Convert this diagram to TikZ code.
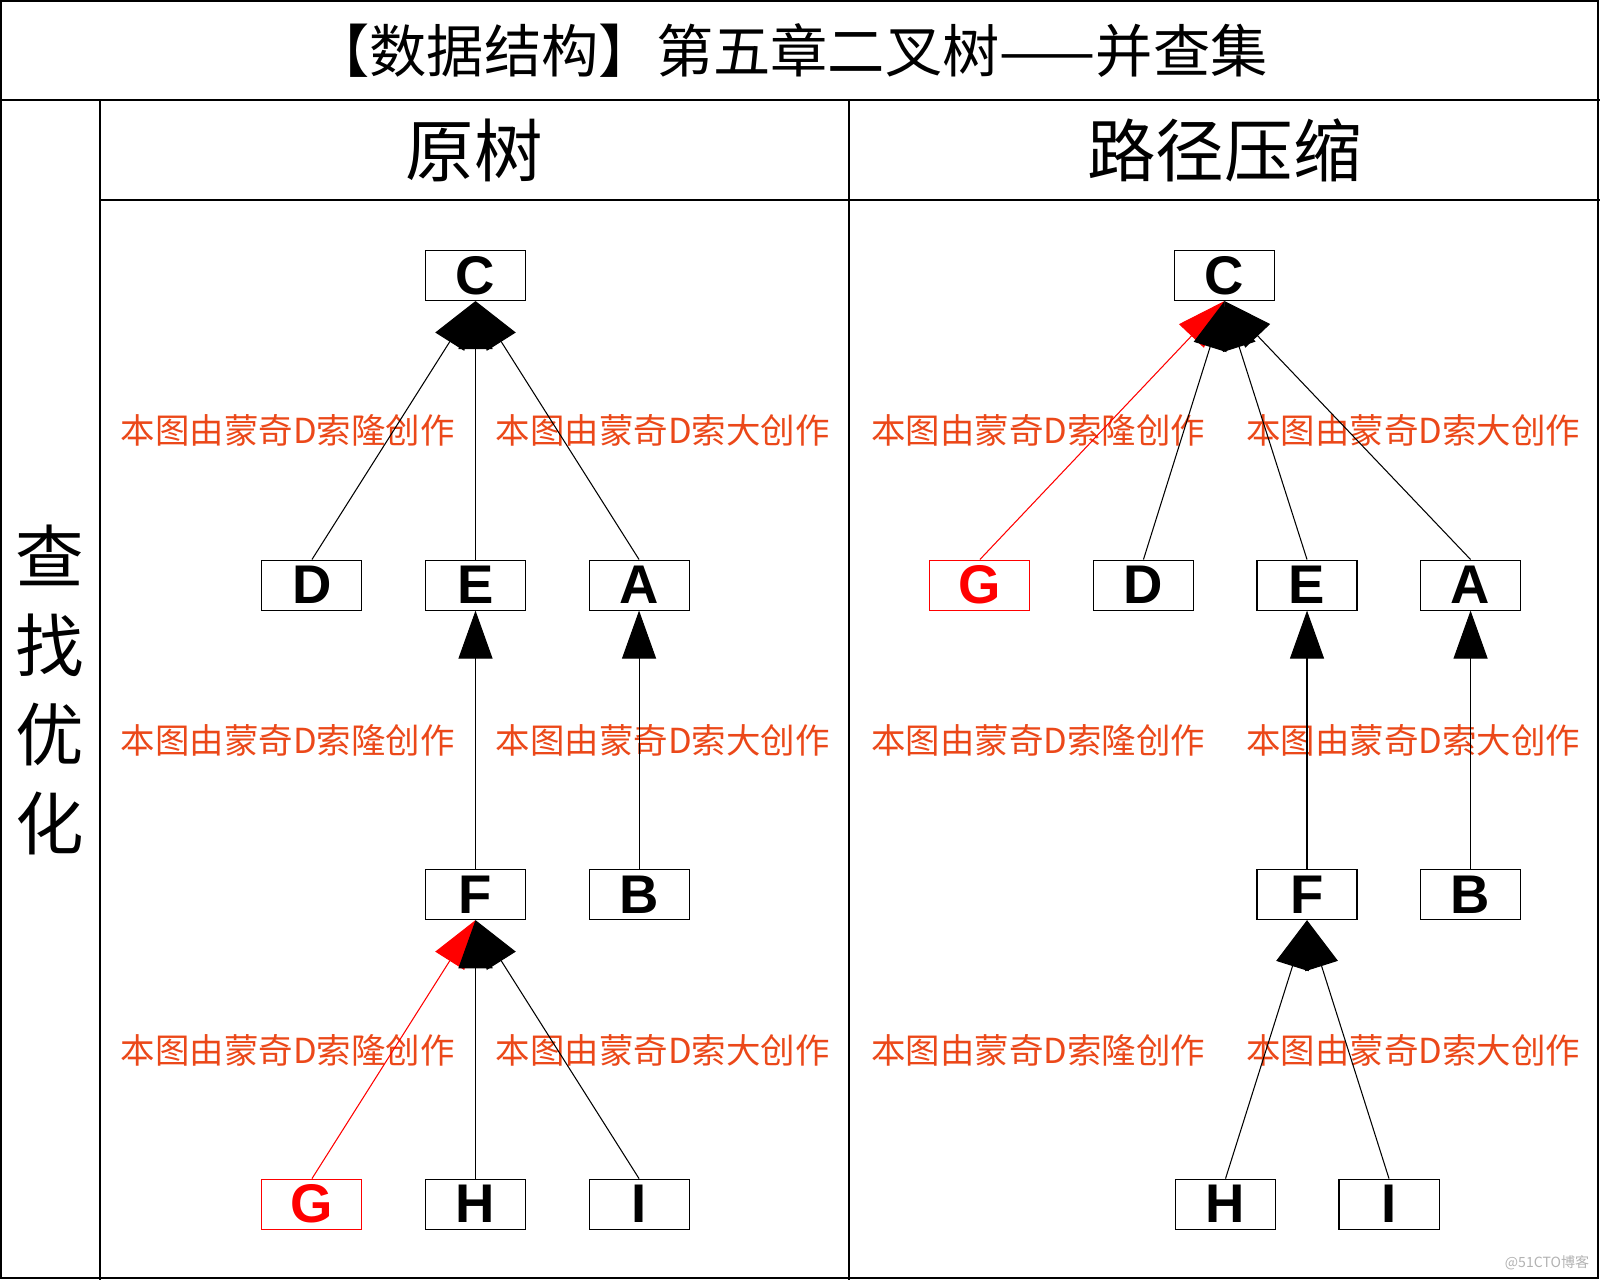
\documentclass[tikz,border=0pt]{standalone}
\usepackage{fontspec}
\setsansfont{Liberation Sans}
\newfontfamily\cjk{Noto Sans CJK SC}
\definecolor{wmred}{RGB}{235,72,25}
\usetikzlibrary{arrows.meta,positioning}

\begin{document}
\begin{tikzpicture}[>={Triangle[length=13.7pt,width=9.7pt]},line width=0.3pt,
        node distance=2.585cm and 0.625cm,
        main node/.style={rectangle,draw,minimum width=1cm,minimum height=0.5cm,inner sep=0pt,
          font=\sffamily\bfseries\fontsize{15.5}{15.5}\selectfont},
        red node/.style={main node,draw=red,text=red},
        wm node/.style={font=\cjk\fontsize{9.8}{9.8}\selectfont,text=wmred},
        head node/.style={font=\cjk\fontsize{19.5}{25.3}\selectfont,align=center}]
        \useasboundingbox (0,0) rectangle (16,-12.8);
        \draw[line width=0.5pt] (0.01,-0.01) rectangle (15.98,-12.78);
        \draw[line width=0.5pt] (0,-1) -- (16,-1);
        \draw (1,-1) -- (1,-12.8);
        \draw (8.49,-1) -- (8.49,-12.8);
        \draw (1,-2) -- (16,-2);
        \node[font=\cjk\fontsize{16.3}{16.3}\selectfont] (title) at (7.9,-0.51) {【数据结构】第五章二叉树——并查集};
        \node[head node] (orig) at (4.745,-1.5) {原树};
        \node[head node] (comp) at (12.245,-1.5) {路径压缩};
        \node[head node] (find) at (0.5,-6.9) {查\\找\\优\\化};
        \foreach \y [count=\i] in {-4.306,-7.408,-10.5} {
          \node[wm node] (wa\i) at (2.877,\y) {本图由蒙奇D索隆创作};
          \node[wm node] (wb\i) at (6.628,\y) {本图由蒙奇D索大创作};
          \node[wm node] (wc\i) at (10.383,\y) {本图由蒙奇D索隆创作};
          \node[wm node] (wd\i) at (14.133,\y) {本图由蒙奇D索大创作};
        }
        \node[main node] (C) at (4.755,-2.755) {C};
        \node[main node] (E) [below=of C] {E};
        \node[main node] (D) [left=of E] {D};
        \node[main node] (A) [right=of E] {A};
        \node[main node] (F) [below=of E] {F};
        \node[main node] (B) [right=of F] {B};
        \node[main node] (H) [below=of F] {H};
        \node[red node] (G) [left=of H] {G};
        \node[main node] (I) [right=of H] {I};
        \node[main node] (rC) at (12.245,-2.755) {C};
        \node[main node] (rE) [below=of rC,xshift=0.825cm] {E};
        \node[main node] (rD) [left=of rE] {D};
        \node[red node] (rG) [left=of rD] {G};
        \node[main node] (rA) [right=of rE] {A};
        \node[main node] (rF) [below=of rE] {F};
        \node[main node] (rB) [right=of rF] {B};
        \node[main node] (rH) [below=of rF,xshift=-0.815cm] {H};
        \node[main node] (rI) [below=of rF,xshift=0.82cm] {I};
        \path[->]
        (G.north) edge [red] (F.south)
        (H.north) edge (F.south)
        (I.north) edge (F.south)
        (F.north) edge (E.south)
        (B.north) edge (A.south)
        (D.north) edge (C.south)
        (E.north) edge (C.south)
        (A.north) edge (C.south)
        (rG.north) edge [red] (rC.south)
        (rD.north) edge (rC.south)
        (rE.north) edge (rC.south)
        (rA.north) edge (rC.south)
        (rF.north) edge (rE.south)
        (rB.north) edge (rA.south)
        (rH.north) edge (rF.south)
        (rI.north) edge (rF.south)
        ;
        \node[font=\cjk\fontsize{4}{4}\selectfont,text=black!30] (blog) at (15.47,-12.63) {@51CTO博客};
\end{tikzpicture}
\end{document}
